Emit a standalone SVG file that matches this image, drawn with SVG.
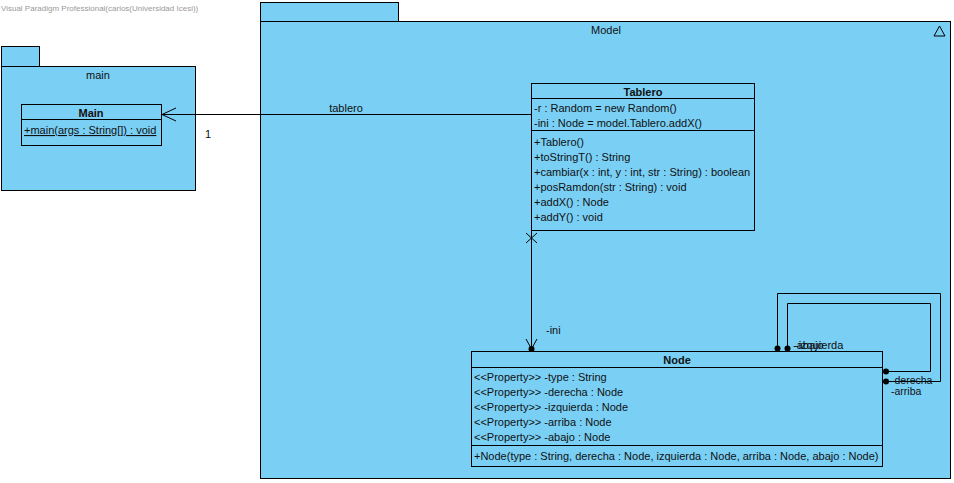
<svg xmlns="http://www.w3.org/2000/svg" width="954" height="483" viewBox="0 0 954 483">
<style>
.pk{fill:#7ACFF5;stroke:#000;stroke-width:1}
.cl{fill:#7ACFF5;stroke:#000;stroke-width:1}
.ln{fill:none;stroke:#000;stroke-width:1}
text{font-family:"Liberation Sans",Arial,sans-serif;font-size:11px;fill:#111}
.b{font-weight:bold;text-anchor:middle}
.c{text-anchor:middle}
.s{font-size:10.5px}
</style>
<rect width="954" height="483" fill="#fff"/>
<text x="1" y="11" style="font-size:8px;fill:#999">Visual Paradigm Professional(carlos(Universidad Icesi))</text>

<g id="pkg-main">
<rect class="pk" x="1.5" y="46.5" width="38" height="20"/>
<rect class="pk" x="1.5" y="66.5" width="194" height="124"/>
<text class="c" x="98" y="79">main</text>
</g>

<g id="pkg-model">
<rect class="pk" x="260.5" y="2.5" width="138" height="19"/>
<rect class="pk" x="260.5" y="21.5" width="690" height="457"/>
<text class="c" x="606" y="34">Model</text>
<path d="M939.5 26 L945 36 L934 36 Z" fill="none" stroke="#000"/>
</g>

<g id="class-main">
<rect class="cl" x="21.5" y="104.5" width="140" height="41"/>
<line class="ln" x1="21.5" y1="119.5" x2="161.5" y2="119.5"/>
<text class="b" x="91" y="117">Main</text>
<text x="24" y="134" text-decoration="underline">+main(args : String[]) : void</text>
</g>

<g id="class-tablero">
<rect class="cl" x="531.5" y="83.5" width="223" height="147"/>
<line class="ln" x1="531.5" y1="98.5" x2="754.5" y2="98.5"/>
<line class="ln" x1="531.5" y1="130.5" x2="754.5" y2="130.5"/>
<text class="b" x="643" y="96">Tablero</text>
<text x="534" y="112">-r : Random = new Random()</text>
<text x="534" y="127">-ini : Node = model.Tablero.addX()</text>
<text x="534" y="146">+Tablero()</text>
<text x="534" y="161">+toStringT() : String</text>
<text x="534" y="176">+cambiar(x : int, y : int, str : String) : boolean</text>
<text x="534" y="191">+posRamdon(str : String) : void</text>
<text x="534" y="206">+addX() : Node</text>
<text x="534" y="221">+addY() : void</text>
</g>

<g id="class-node">
<rect class="cl" x="471.5" y="351.5" width="411" height="115"/>
<line class="ln" x1="471.5" y1="367.5" x2="882.5" y2="367.5"/>
<line class="ln" x1="471.5" y1="445.5" x2="882.5" y2="445.5"/>
<text class="b" x="677" y="364">Node</text>
<text x="474" y="381">&lt;&lt;Property&gt;&gt; -type : String</text>
<text x="474" y="396">&lt;&lt;Property&gt;&gt; -derecha : Node</text>
<text x="474" y="411">&lt;&lt;Property&gt;&gt; -izquierda : Node</text>
<text x="474" y="426">&lt;&lt;Property&gt;&gt; -arriba : Node</text>
<text x="474" y="441">&lt;&lt;Property&gt;&gt; -abajo : Node</text>
<text x="474" y="460">+Node(type : String, derecha : Node, izquierda : Node, arriba : Node, abajo : Node)</text>
</g>

<g id="connectors">
<line class="ln" x1="531" y1="114.5" x2="162" y2="114.5"/>
<path class="ln" d="M176 108 L162 114.5 L176 121"/>
<text class="c" x="346" y="112">tablero</text>
<text x="205" y="138">1</text>

<line class="ln" x1="531.5" y1="231" x2="531.5" y2="349"/>
<path class="ln" d="M526 233 L537 243 M537 233 L526 243"/>
<path class="ln" d="M526 339 L531.5 349 L537 339"/>
<circle cx="531.5" cy="349" r="3" fill="#000"/>
<text x="546" y="334">-ini</text>

<path class="ln" d="M777.5 348 V293.5 H940.5 V381.5 H886"/>
<path class="ln" d="M787.5 348 V303.5 H930.5 V371.5 H886"/>
<circle cx="777.5" cy="348.5" r="3" fill="#000"/>
<circle cx="787.5" cy="348.5" r="3" fill="#000"/>
<circle cx="886" cy="371.5" r="3" fill="#000"/>
<circle cx="886" cy="381.5" r="3" fill="#000"/>
<text x="793" y="349">-abajo</text>
<text x="795" y="349">-izquierda</text>
<text class="s" x="891" y="384">-derecha</text>
<text class="s" x="891" y="395">-arriba</text>
</g>
</svg>
